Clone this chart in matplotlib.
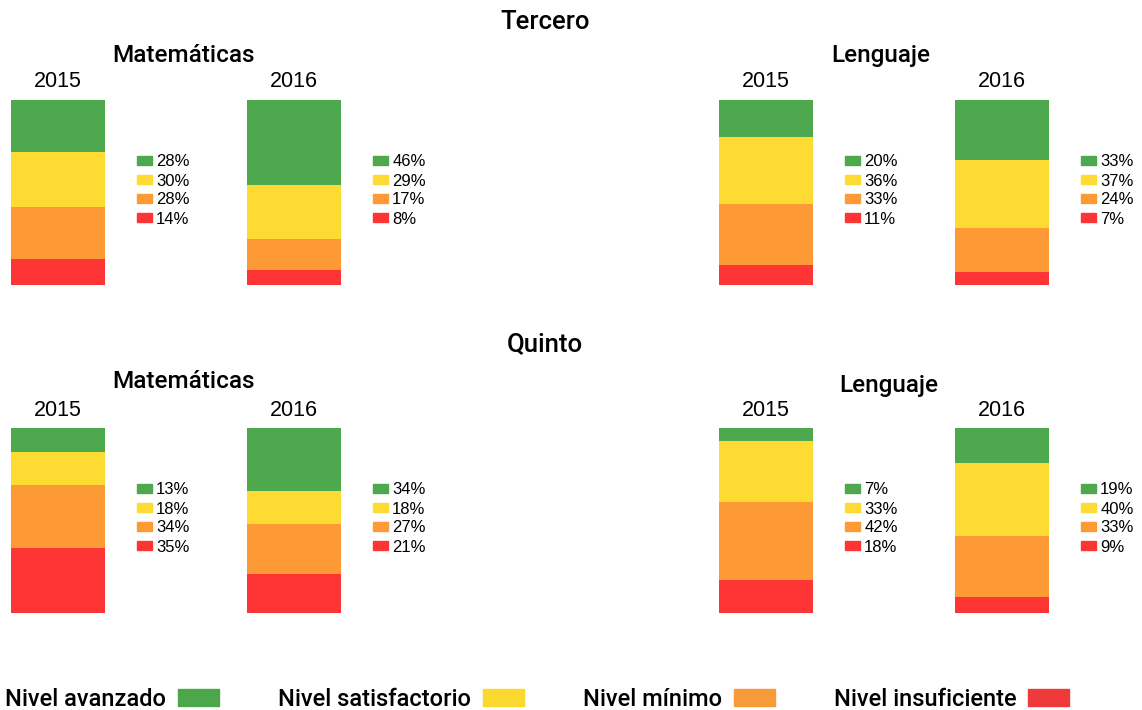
import matplotlib
matplotlib.use('Agg')
import matplotlib.pyplot as plt
from matplotlib.patches import Patch

niveles = ['Nivel avanzado', 'Nivel satisfactorio', 'Nivel mínimo', 'Nivel insuficiente']
colores = ['#4ea84e', '#fedb33', '#fe9a35', '#fe3535']
colores_leyenda = ['#4ca64c', '#f9d92e', '#f69a3a', '#ee3a3a']

grados = ['Tercero', 'Quinto']
materias = ['Matemáticas', 'Lenguaje']
anios = ['2015', '2016']

# porcentajes: avanzado, satisfactorio, mínimo, insuficiente
tercero_mat = [[28, 30, 28, 14], [46, 29, 17, 8]]
tercero_len = [[20, 36, 33, 11], [33, 37, 24, 7]]
quinto_mat = [[13, 18, 34, 35], [34, 18, 27, 21]]
quinto_len = [[7, 33, 42, 18], [19, 40, 33, 9]]

datos = [[tercero_mat, tercero_len], [quinto_mat, quinto_len]]

W, H = 1142, 710
fig = plt.figure(figsize=(W / 100, H / 100), dpi=100)

def fx(px):
    return px / W

def fy(py):
    return 1 - py / H

titulo_font = dict(family='Roboto', fontweight='medium', color='black')
num_font = 'Liberation Sans'

barra_x = [[11, 247], [719, 955]]   # posicion izquierda de cada barra (px)
barra_w = 94
barra_h = 185
fila_top = [100, 428]
grado_base = [29, 351]
materia_base = [[62, 62], [388, 392]]
materia_x = [[183, 881], [183, 889]]
anio_base = [87, 416]

for g, grado in enumerate(grados):
    fig.text(fx(545), fy(grado_base[g]), grado, ha='center', va='baseline', fontsize=18.5, **titulo_font)
    for m, materia in enumerate(materias):
        fig.text(fx(materia_x[g][m]), fy(materia_base[g][m]), materia, ha='center', va='baseline',
                 fontsize=17.5, **titulo_font)
        for a, anio in enumerate(anios):
            vals = datos[g][m][a]
            x0 = barra_x[m][a]
            top = fila_top[g]
            ax = fig.add_axes([fx(x0), fy(top + barra_h), barra_w / W, barra_h / H])
            base = sum(vals)
            for v, c in zip(vals, colores):
                base -= v
                ax.bar(0, v, bottom=base, width=1, color=c, edgecolor='none')
            ax.set_xlim(-0.5, 0.5)
            ax.set_ylim(0, sum(vals))
            ax.axis('off')
            fig.text(fx(x0 + barra_w / 2), fy(anio_base[g]), anio, ha='center', va='baseline',
                     fontsize=15.5, family=num_font)
            handles = [Patch(color=c) for c in colores]
            etiquetas = ['%d%%' % v for v in vals]
            fig.legend(handles, etiquetas, loc='center left',
                       bbox_to_anchor=(fx(x0 + 126), fy(top + barra_h / 2 - 2)),
                       frameon=False, borderpad=0, borderaxespad=0,
                       prop={'family': num_font, 'size': 12},
                       handlelength=0.9, handleheight=0.48, handletextpad=0.25,
                       labelspacing=0.24)

handles = [Patch(color=c) for c in colores_leyenda]
fig.legend(handles, niveles, loc='center', bbox_to_anchor=(fx(537), fy(699)), ncol=4,
           markerfirst=False, frameon=False, borderpad=0, borderaxespad=0,
           prop={'family': 'Roboto', 'weight': 'medium', 'size': 17},
           handlelength=1.74, handleheight=0.76, handletextpad=0.5, columnspacing=2.5)

fig.savefig('out.png', dpi=100)
